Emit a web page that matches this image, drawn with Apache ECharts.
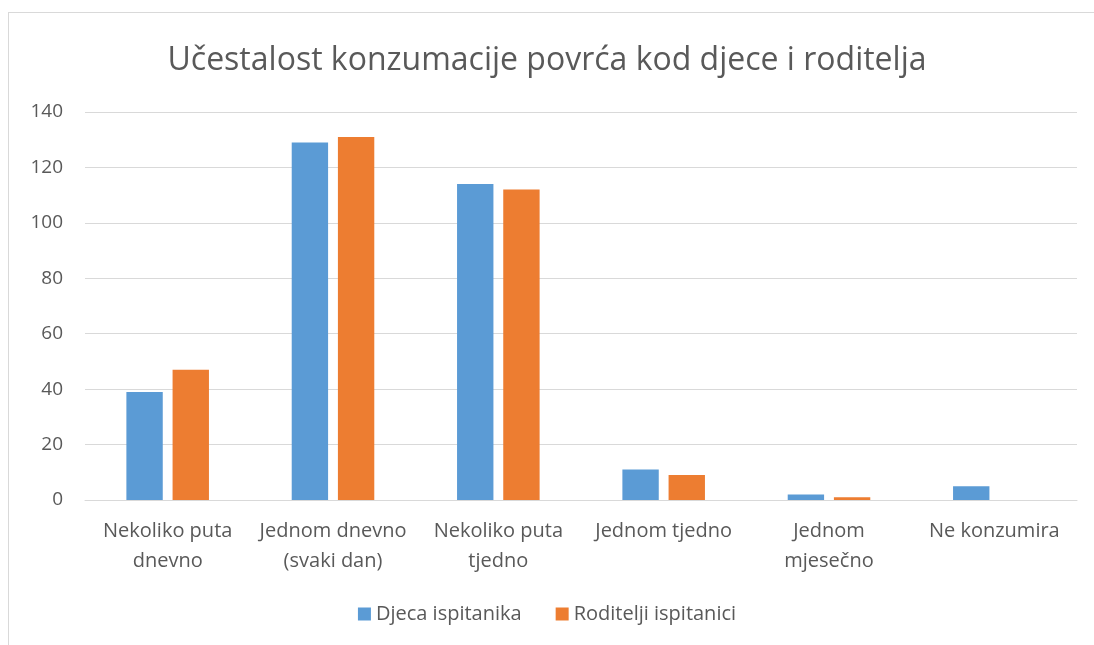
<!DOCTYPE html>
<html>
<head>
<meta charset="utf-8">
<script src="https://cdn.jsdelivr.net/npm/echarts@6/dist/echarts.min.js"></script>
<style>
  html, body { margin: 0; padding: 0; background: #fff; }
  #frame { position: absolute; left: 8px; top: 12px; width: 1100px; height: 650px; border: 1px solid #d9d9d9; box-sizing: border-box; }
  #main { position: absolute; left: 0; top: 0; width: 1094px; height: 645px; }
</style>
</head>
<body>
<div id="frame"></div>
<div id="main"></div>
<script>
  // kategorije i vrijednosti
  var categories = ['Nekoliko puta\ndnevno', 'Jednom dnevno\n(svaki dan)', 'Nekoliko puta\ntjedno', 'Jednom tjedno', 'Jednom\nmjesečno', 'Ne konzumira'];
  var djecaValues = [39, 129, 114, 11, 2, 5];
  var roditeljiValues = [47, 131, 112, 9, 1, 0];
  var yTicks = [0, 20, 40, 60, 80, 100, 120, 140];

  var textColor = '#595959';
  var fontName = '"Open Sans", "Noto Sans", sans-serif';

  var chart = echarts.init(document.getElementById('main'));
  var option = {
    animation: false,
    title: {
      text: 'Učestalost konzumacije povrća kod djece i roditelja',
      left: 'center',
      top: 40,
      textStyle: { color: textColor, fontSize: 32, fontWeight: 'normal', fontFamily: fontName }
    },
    legend: {
      bottom: 16,
      left: 'center',
      itemWidth: 13,
      itemHeight: 13,
      itemGap: 34,
      icon: 'rect',
      textStyle: { color: textColor, fontSize: 20, fontFamily: fontName },
      data: ['Djeca ispitanika', 'Roditelji ispitanici']
    },
    grid: { left: 85, right: 17, top: 112, bottom: 145, containLabel: false },
    xAxis: {
      type: 'category',
      data: categories,
      axisLine: { lineStyle: { color: '#d9d9d9', width: 1 } },
      axisTick: { show: false },
      axisLabel: { color: textColor, fontSize: 20, fontFamily: fontName, margin: 16, lineHeight: 30, interval: 0 }
    },
    yAxis: {
      type: 'value',
      min: yTicks[0],
      max: yTicks[yTicks.length - 1],
      interval: 20,
      axisLine: { show: false },
      axisTick: { show: false },
      splitLine: { lineStyle: { color: '#d9d9d9', width: 1 } },
      axisLabel: { color: textColor, fontSize: 19, fontFamily: fontName, margin: 22 }
    },
    series: [
      {
        name: 'Djeca ispitanika',
        type: 'bar',
        data: djecaValues,
        barWidth: '22%',
        barGap: '27%',
        itemStyle: { color: '#5b9bd5' }
      },
      {
        name: 'Roditelji ispitanici',
        type: 'bar',
        data: roditeljiValues,
        barWidth: '22%',
        itemStyle: { color: '#ed7d31' }
      }
    ]
  };
  chart.setOption(option);
</script>
</body>
</html>
